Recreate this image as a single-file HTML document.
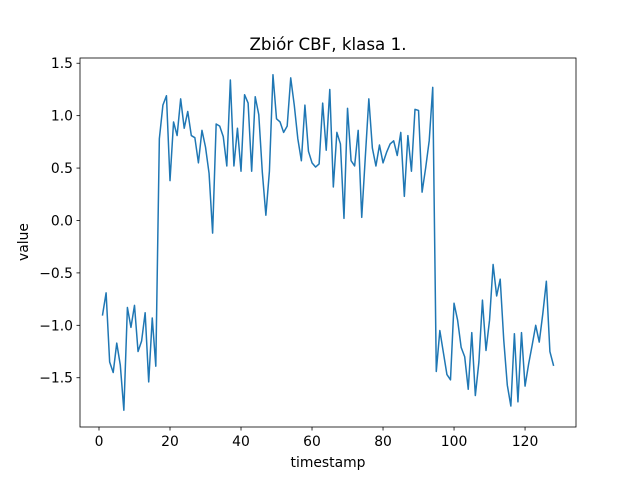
<!DOCTYPE html>
<html><head><meta charset="utf-8"><style>
body{margin:0;background:#fff}
svg{display:block;font-family:"DejaVu Sans","Liberation Sans",sans-serif}
</style></head><body>
<svg id="chart" width="640" height="480">
<rect width="640" height="480" fill="#fff"/>
<text x="328" y="50" text-anchor="middle" font-size="16.7">Zbiór CBF, klasa 1.</text>
<g id="plot"></g>
<text x="328" y="467" text-anchor="middle" font-size="13.9">timestamp</text>
<text transform="translate(28,242) rotate(-90)" text-anchor="middle" font-size="13.9">value</text>
</svg>
<script>
const values = [-0.90,-0.69,-1.35,-1.45,-1.17,-1.38,-1.81,-0.83,-1.02,-0.81,-1.25,-1.15,-0.88,-1.54,-0.93,-1.39,
0.78,1.10,1.19,0.38,0.94,0.81,1.16,0.88,1.04,0.81,0.79,0.55,0.86,0.70,0.45,-0.12,0.92,0.90,0.80,0.52,1.34,0.52,0.88,0.47,
1.20,1.12,0.47,1.18,1.01,0.46,0.05,0.47,1.39,0.97,0.94,0.84,0.90,1.36,1.10,0.78,0.57,1.10,0.66,0.55,0.51,0.54,1.12,0.67,
1.25,0.32,0.84,0.73,0.02,1.07,0.57,0.52,0.86,0.03,0.60,1.16,0.69,0.52,0.72,0.55,0.65,0.73,0.76,0.62,0.84,0.23,0.81,0.47,
1.06,1.05,0.27,0.50,0.76,1.27,-1.44,-1.05,-1.26,-1.47,-1.52,-0.79,-0.95,-1.21,-1.30,-1.61,-1.07,-1.67,-1.35,-0.76,-1.24,
-0.95,-0.42,-0.72,-0.56,-1.14,-1.57,-1.77,-1.08,-1.73,-1.07,-1.58,-1.37,-1.19,-1.00,-1.16,-0.89,-0.58,-1.25,-1.38];
const xTicks = [0,20,40,60,80,100,120];
const yTicks = [-1.5,-1.0,-0.5,0.0,0.5,1.0,1.5];
const yTickLabels = ["−1.5","−1.0","−0.5","0.0","0.5","1.0","1.5"];

const L=80,R=576,T=58,B=427;
const n=values.length;
const xmin=1-(n-1)*0.05, xmax=n+(n-1)*0.05;
const vmin=Math.min(...values), vmax=Math.max(...values), pad=(vmax-vmin)*0.05;
const ymin=vmin-pad, ymax=vmax+pad;
const sx=v=>L+(v-xmin)/(xmax-xmin)*(R-L);
const sy=v=>B-(v-ymin)/(ymax-ymin)*(B-T);
const NS="http://www.w3.org/2000/svg";
const g=document.getElementById('plot');
function mk(tag,attrs){const e=document.createElementNS(NS,tag);for(const k in attrs)e.setAttribute(k,attrs[k]);g.appendChild(e);return e;}

let d=values.map((v,i)=>(i?'L':'M')+sx(i+1).toFixed(2)+','+sy(v).toFixed(2)).join('');
const line=mk('path',{d:d,fill:'none',stroke:'#1f77b4','stroke-width':1.5,'stroke-linejoin':'round','stroke-linecap':'square'});



const frame=mk('rect',{x:L,y:T,width:R-L,height:B-T,fill:'none',stroke:'#000','stroke-width':0.8});



xTicks.forEach(t=>{
  const x=sx(t);
  const tk=mk('line',{x1:x,x2:x,y1:B,y2:B+3.5,stroke:'#000','stroke-width':0.8});
  
  
  const tx=mk('text',{x:x,y:B+19,'text-anchor':'middle','font-size':13.9});
  tx.textContent=t;
  
  
});
yTicks.forEach((t,i)=>{
  const y=sy(t);
  const tk=mk('line',{x1:L-3.5,x2:L,y1:y,y2:y,stroke:'#000','stroke-width':0.8});
  
  
  const tx=mk('text',{x:L-7,y:y+5,'text-anchor':'end','font-size':13.9});
  tx.textContent=yTickLabels[i];
  
  
});
</script>
</body></html>
